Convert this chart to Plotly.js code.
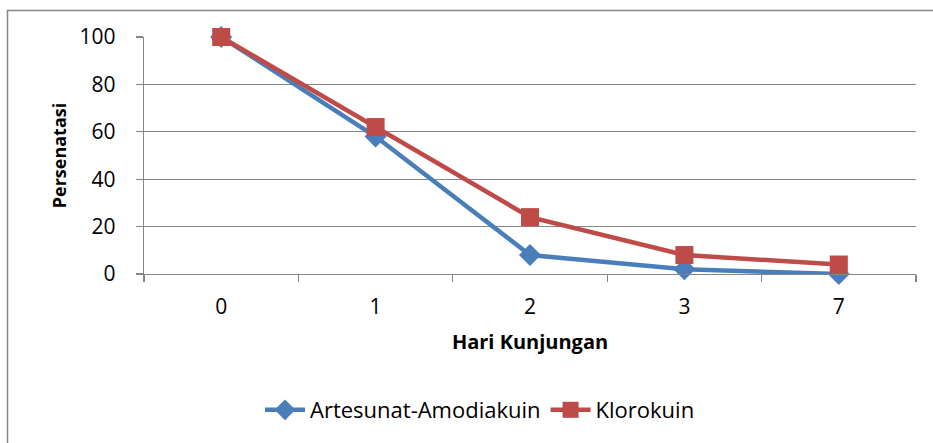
<!DOCTYPE html>
<html>
<head>
<meta charset="utf-8">
<script src="https://cdn.plot.ly/plotly-3.0.1.min.js"></script>
<style>html,body{margin:0;padding:0;background:#fff;}#chart{width:933px;height:443px;}</style>
</head>
<body>
<div id="chart"></div>
<script>
var categories = ["0", "1", "2", "3", "7"];
var artesunat = [100, 58, 8, 2, 0];
var klorokuin = [100, 62, 24, 8, 4];
var yTicks = [0, 20, 40, 60, 80, 100];
var seriesNames = ["Artesunat-Amodiakuin", "Klorokuin"];

var W = 933, H = 443;
var M = {l: 144, r: 17, t: 37, b: 169};
var pw = W - M.l - M.r, ph = H - M.t - M.b;
function px2x(p){ return (p - M.l) / pw; }
function px2y(p){ return 1 - (p - M.t) / ph; }

var font = "Open Sans, Noto Sans, sans-serif";
var traces = [
  {x: categories, y: artesunat, name: seriesNames[0], type: "scatter", mode: "lines+markers", cliponaxis: false,
   line: {color: "#4A7EBB", width: 4.5}, marker: {symbol: "diamond", size: 17, color: "#4A7EBB"}},
  {x: categories, y: klorokuin, name: seriesNames[1], type: "scatter", mode: "lines+markers", cliponaxis: false,
   line: {color: "#BE4B48", width: 4.5}, marker: {symbol: "square", size: 18, color: "#BE4B48"}}
];
var layout = {
  width: W, height: H, margin: M,
  paper_bgcolor: "#fff", plot_bgcolor: "#fff",
  font: {family: font, size: 21, color: "#000"},
  showlegend: true,
  legend: {orientation: "h", x: px2x(480), xanchor: "center", y: px2y(410), yanchor: "middle",
           font: {family: font, size: 22, color: "#000"}, itemwidth: 40, tracegroupgap: 0},
  xaxis: {type: "category", categoryorder: "array", categoryarray: categories,
          range: [-0.5, 4.5], showgrid: false, zeroline: false, automargin: false,
          showline: true, linecolor: "#868686", linewidth: 1.3,
          ticks: "outside", tickson: "boundaries", ticklen: 7, tickcolor: "#868686", tickwidth: 1.3,
          ticklabelstandoff: 13,
          tickfont: {family: font, size: 21, color: "#000"},
          title: {text: "<b>Hari Kunjungan</b>", font: {family: font, size: 20, color: "#000"}, standoff: 16},
          fixedrange: true},
  yaxis: {range: [0, 100], tickvals: yTicks, ticktext: yTicks.map(String),
          showgrid: true, gridcolor: "#868686", gridwidth: 1.3, zeroline: false, automargin: false,
          showline: true, linecolor: "#868686", linewidth: 1.3,
          ticks: "outside", ticklen: 7, tickcolor: "#868686", tickwidth: 1.3,
          ticklabelstandoff: 16,
          tickfont: {family: font, size: 21, color: "#000"},
          title: {text: "<b>Persenatasi</b>", font: {family: font, size: 18, color: "#000"}, standoff: 8},
          fixedrange: true},
  shapes: [
    {type: "rect", xref: "paper", yref: "paper", x0: px2x(7.5), x1: px2x(960), y0: px2y(10.5), y1: px2y(480),
     line: {color: "#868686", width: 1.5}, fillcolor: "rgba(0,0,0,0)", layer: "below"}
  ]
};
Plotly.newPlot("chart", traces, layout, {displayModeBar: false, staticPlot: true});
</script>
</body>
</html>
